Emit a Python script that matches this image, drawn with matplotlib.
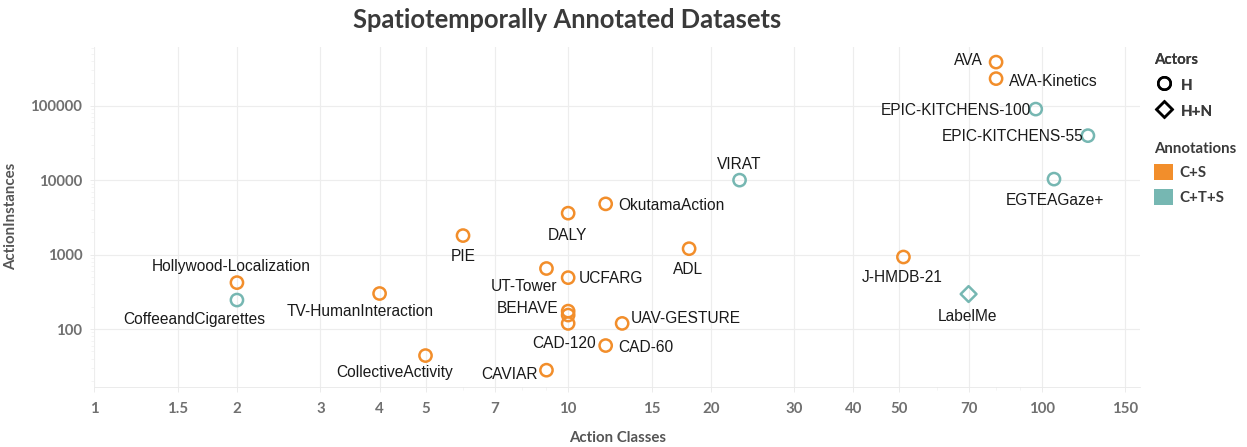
import matplotlib
matplotlib.use("Agg")
import matplotlib.pyplot as plt
from matplotlib.lines import Line2D
from matplotlib.patches import Patch
from matplotlib.ticker import FixedLocator, FixedFormatter, NullFormatter

# data
names = ["AVA", "AVA-Kinetics", "EPIC-KITCHENS-100", "EPIC-KITCHENS-55", "EGTEAGaze+",
         "J-HMDB-21", "LabelMe", "VIRAT", "OkutamaAction", "DALY", "PIE", "ADL",
         "UT-Tower", "UCFARG", "BEHAVE", "", "CAD-120", "UAV-GESTURE", "CAD-60",
         "CAVIAR", "CollectiveActivity", "TV-HumanInteraction",
         "Hollywood-Localization", "CoffeeandCigarettes"]
classes = [80, 80, 97, 125, 106, 51, 70, 23, 12, 10, 6, 18,
           9, 10, 10, 10, 10, 13, 12, 9, 5, 4, 2, 2]
instances = [385000, 231000, 90000, 39600, 10325, 928, 295, 10000, 4800, 3600, 1800, 1200,
             650, 490, 174, 154, 119, 119, 60, 28, 44, 300, 420, 245]
annotation = ["C+S", "C+S", "C+T+S", "C+T+S", "C+T+S", "C+S", "C+T+S", "C+T+S", "C+S", "C+S",
              "C+S", "C+S", "C+S", "C+S", "C+S", "C+S", "C+S", "C+S", "C+S", "C+S", "C+S",
              "C+S", "C+S", "C+T+S"]
actors = ["H", "H", "H", "H", "H", "H", "H+N", "H", "H", "H", "H", "H",
          "H", "H", "H", "H", "H", "H", "H", "H", "H", "H", "H", "H"]

x_ticks = [1, 1.5, 2, 3, 4, 5, 7, 10, 15, 20, 30, 40, 50, 70, 100, 150]
y_ticks = [100, 1000, 10000, 100000]

colors = {"C+S": "#F28E2B", "C+T+S": "#76B7B2"}
markers = {"H": "o", "H+N": "D"}

# label placement: (ha, dx, dy) in points (= pixels at 72 dpi)
label_pos = {
    "AVA": ("right", -13, 2), "AVA-Kinetics": ("left", 13, -3),
    "EPIC-KITCHENS-100": ("right", -5, -1), "EPIC-KITCHENS-55": ("right", -4, -1),
    "EGTEAGaze+": ("center", 1, -21), "J-HMDB-21": ("center", -1, -21),
    "LabelMe": ("center", -1, -22), "VIRAT": ("center", 0, 16),
    "OkutamaAction": ("left", 13, -2), "DALY": ("center", -1, -22),
    "PIE": ("center", 0, -21), "ADL": ("center", -1, -21),
    "UT-Tower": ("right", 11, -18), "UCFARG": ("left", 11, -1),
    "BEHAVE": ("right", -10, 3), "CAD-120": ("right", 28, -20),
    "UAV-GESTURE": ("left", 9, 5), "CAD-60": ("left", 13, -2),
    "CAVIAR": ("right", -9, -4), "CollectiveActivity": ("center", -31, -17),
    "TV-HumanInteraction": ("center", -19, -18),
    "Hollywood-Localization": ("center", -6, 16),
    "CoffeeandCigarettes": ("center", -43, -19),
}

W, H = 1247, 447
fig = plt.figure(figsize=(W / 72, H / 72), dpi=72)
ax = fig.add_axes([94.3 / W, 1 - 386.7 / H, (1140 - 94.3) / W, (386.7 - 46.7) / H])

ax.set_xscale("log")
ax.set_yscale("log")
ax.set_xlim(1, 161)
ax.set_ylim(16.8, 620000)

for x, y, a, act in zip(classes, instances, annotation, actors):
    ax.scatter(x, y, s=150 if act == "H" else 125, marker=markers[act], facecolors="none",
               edgecolors=colors[a], linewidths=2.5, zorder=3)

for n, x, y in zip(names, classes, instances):
    if not n:
        continue
    ha, dx, dy = label_pos[n]
    ax.annotate(n, (x, y), xytext=(dx, dy), textcoords="offset points",
                ha=ha, va="center", fontsize=15.5, family="Liberation Sans",
                color="#1a1a1a", zorder=4)

ax.xaxis.set_major_locator(FixedLocator(x_ticks))
ax.xaxis.set_major_formatter(FixedFormatter([f"{t:g}" for t in x_ticks]))
ax.xaxis.set_minor_locator(FixedLocator([6, 8, 9, 60, 80, 90]))
ax.xaxis.set_minor_formatter(NullFormatter())
ax.yaxis.set_major_locator(FixedLocator(y_ticks))
ax.yaxis.set_major_formatter(FixedFormatter([str(t) for t in y_ticks]))
ax.yaxis.set_minor_formatter(NullFormatter())
for lab in ax.get_xticklabels() + ax.get_yticklabels():
    lab.set_fontfamily("Lato")
    lab.set_fontweight("bold")
    lab.set_fontsize(15)
    lab.set_color("#707070")
ax.tick_params(axis="x", which="major", length=5, color="#e6e6e6", pad=10)
ax.tick_params(axis="y", which="major", length=4, color="#e6e6e6", pad=8)
ax.tick_params(which="minor", length=3, color="#eeeeee")

ax.grid(True, which="major", color="#ededed", linewidth=1.2)
ax.set_axisbelow(True)
for s in ["top", "right", "left"]:
    ax.spines[s].set_visible(False)
ax.spines["bottom"].set_color("#e6e6e6")

ax.set_xlabel("Action Classes", family="Lato", weight="bold", fontsize=15,
              color="#555555", labelpad=15)
ax.set_ylabel("ActionInstances", family="Lato", weight="bold", fontsize=15,
              color="#555555", labelpad=12)

fig.text(567 / W, 1 - 20 / H, "Spatiotemporally Annotated Datasets", ha="center",
         va="center", family="Lato", weight="bold", fontsize=25.5, color="#3a3a3a")

# legends
leg_prop = dict(family="Lato", weight="bold", size=15)
leg_title = dict(family="Lato", weight="bold", size=15)
actor_handles = [Line2D([], [], marker=markers[k], ls="", mfc="none", mec="black",
                        mew=2.5, ms=12.5 if k == "H" else 11.5) for k in ["H", "H+N"]]
leg1 = fig.legend(actor_handles, ["H", "H+N"], loc="upper left",
                  bbox_to_anchor=(1154 / W, 1 - 53 / H), frameon=False, title="Actors",
                  alignment="left", handlelength=1.35, handleheight=1.4,
                  handletextpad=0.4, labelspacing=0.6, borderpad=0, borderaxespad=0,
                  prop=leg_prop, title_fontproperties=leg_title)
annot_handles = [Patch(facecolor=colors[k], edgecolor="none") for k in ["C+S", "C+T+S"]]
leg2 = fig.legend(annot_handles, ["C+S", "C+T+S"], loc="upper left",
                  bbox_to_anchor=(1154 / W, 1 - 142 / H), frameon=False,
                  title="Annotations", alignment="left", handlelength=1.27,
                  handleheight=1.27, handletextpad=0.4, labelspacing=0.55,
                  borderpad=0, borderaxespad=0,
                  prop=leg_prop, title_fontproperties=leg_title)
for leg in (leg1, leg2):
    leg.get_title().set_color("#3a3a3a")
    for t in leg.get_texts():
        t.set_color("#3a3a3a")
fig.add_artist(leg1)

fig.savefig("out.png", dpi=72)
